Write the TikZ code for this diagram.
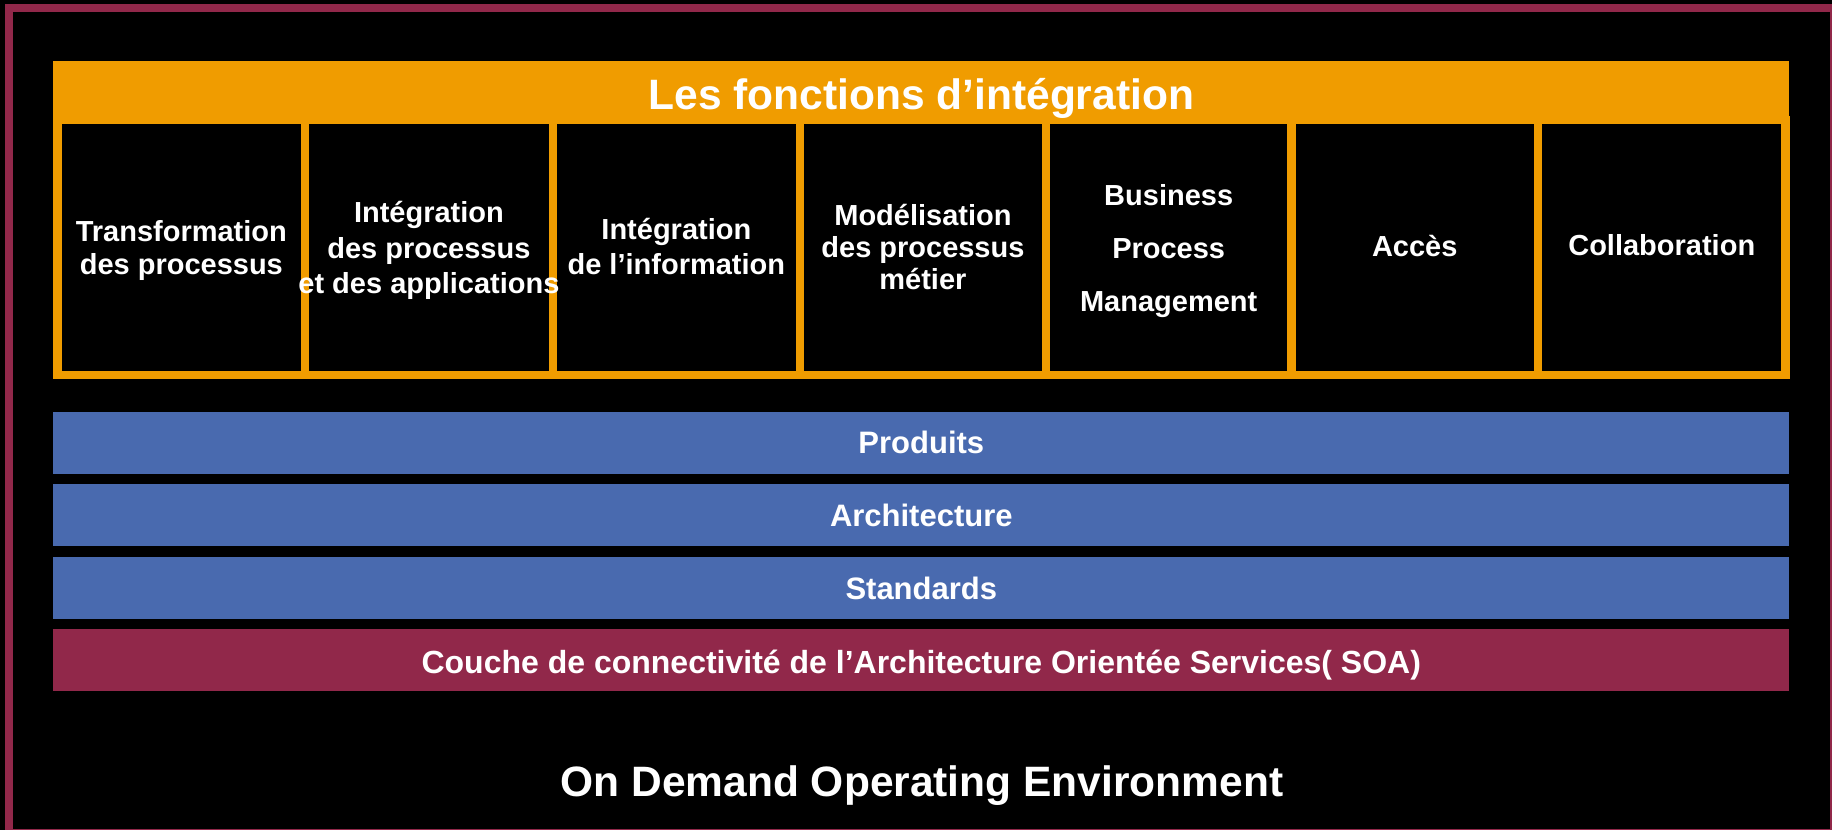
\documentclass[tikz,border=0pt]{standalone}
\usepackage{fontspec}
\setmainfont{Liberation Sans}
\definecolor{fnorange}{RGB}{240,156,0}
\definecolor{fnblue}{RGB}{73,106,175}
\definecolor{fnmaroon}{RGB}{145,40,74}
\begin{document}
\begin{tikzpicture}[x=1pt,y=-1pt,
  colbox/.style={draw=fnorange, line width=8.3pt, fill=black, inner sep=0pt, minimum height=255.2pt},
  coltext/.style={text=white, font=\bfseries\fontsize{29}{#1}\selectfont, align=center, inner sep=0pt},
  band/.style={fill=#1, inner sep=0pt, minimum width=1736pt, minimum height=62pt, text=white,
    font=\bfseries\fontsize{31}{31}\selectfont, text height=22pt, text depth=0pt},
  bigtext/.style={text=white, font=\bfseries\fontsize{#1}{#1}\selectfont, inner sep=0pt}]
\useasboundingbox (0,0) rectangle (1832,830);
\clip (0,0) rectangle (1832,830);
\fill[black] (0,0) rectangle (1832,830);
\draw[fnmaroon, line width=8pt] (9.2,8) rectangle (1834,832.7);
% columns
\node[colbox, minimum width=247.7pt] (c1) at (181.35,247.6) {};
\node[colbox, minimum width=247.5pt] (c2) at (428.95,247.6) {};
\node[colbox, minimum width=247.3pt] (c3) at (676.35,247.6) {};
\node[colbox, minimum width=245.9pt] (c4) at (922.95,247.6) {};
\node[colbox, minimum width=245.6pt] (c5) at (1168.7,247.6) {};
\node[colbox, minimum width=246.5pt] (c6) at (1414.75,247.6) {};
\node[colbox, minimum width=247.5pt] (c7) at (1661.75,247.6) {};
% header
\node[fill=fnorange, inner sep=0pt, minimum width=1736pt, minimum height=62.7pt,
  text=white, font=\bfseries\fontsize{42.5}{42.5}\selectfont, text height=33.3pt, text depth=0pt]
  (head) at (921.3,92.65) {Les fonctions d’intégration};
% column labels
\node[coltext=33.5] (t1) at (181.35,250.5) {Transformation\\des processus};
\node[coltext=35.5] (t2) at (428.95,250.5) {Intégration\\des processus\\et des applications};
\node[coltext=35] (t3) at (676.35,246.5) {Intégration\\de l’information};
\node[coltext=32] (t4) at (922.95,247.5) {Modélisation\\des processus\\métier};
\node[coltext=52.8] (t5) at (1168.7,251.3) {Business\\Process\\Management};
\node[coltext=32] (t6) at (1414.75,246.2) {Accès};
\node[coltext=32] (t7) at (1661.75,245.5) {Collaboration};
% bands
\node[band=fnblue] (prod) at (921.3,442.8) {Produits};
\node[band=fnblue] (arch) at (921.3,515.2) {Architecture};
\node[band=fnblue] (std) at (921.3,588.0) {Standards};
\node[band=fnmaroon, font=\bfseries\fontsize{32}{32}\selectfont, text height=26pt] (soa) at (921.3,660.2)
  {Couche de connectivité de l’Architecture Orientée Services( SOA)};
% bottom title
\node[bigtext=42.5, anchor=base] (env) at (922,796.7) {On Demand Operating Environment};
\end{tikzpicture}
\end{document}
